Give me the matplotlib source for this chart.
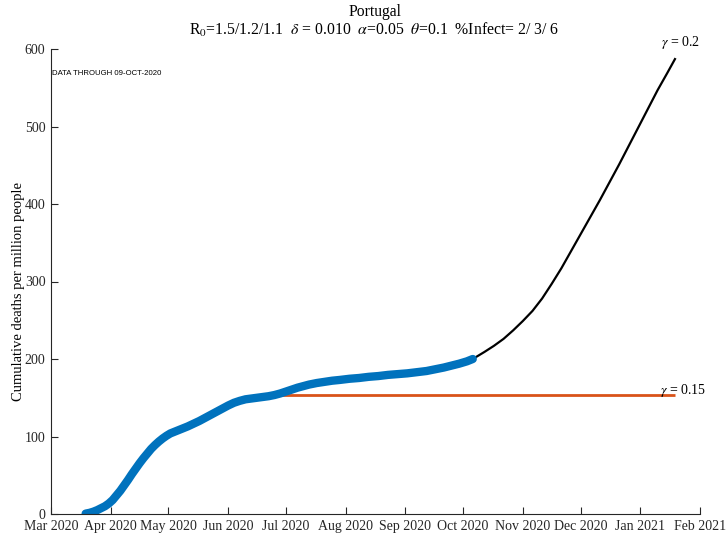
import matplotlib
matplotlib.use('Agg')
import matplotlib.pyplot as plt
import matplotlib.dates as mdates
import numpy as np

plt.rcParams['font.family'] = ['Liberation Serif', 'DejaVu Serif']
plt.rcParams['mathtext.fontset'] = 'stix'

start = np.datetime64('2020-03-01')

# reported data: days since 1-Mar-2020, cumulative deaths per million
data_days = [18, 20, 22, 24, 26, 28, 30, 32, 34, 36, 38, 40, 42, 44, 46, 48, 50, 52,
             54, 56, 58, 60, 62, 65, 68, 71, 74, 77, 80, 83, 86, 89, 92, 95, 98, 101,
             104, 107, 110, 113, 116, 119, 122, 125, 128, 131, 134, 138, 142, 146,
             150, 155, 160, 165, 170, 175, 180, 185, 190, 195, 200, 204, 208, 212,
             216, 219]
data_vals = [0.5, 1.5, 3, 5, 7.5, 10, 13.5, 18, 24, 30, 37, 44, 51.5, 58.5, 65.5, 72,
             78, 84, 89, 93.5, 97.5, 101, 104, 107, 110, 113, 116.5, 120, 124, 128,
             132, 136, 140, 143.5, 146, 148, 149, 150, 151, 152, 153.5, 155.5, 158,
             160.5, 163, 165, 167, 169, 170.5, 172, 173, 174.5, 175.5, 177, 178,
             179.5, 180.5, 181.5, 183, 184.5, 187, 189, 191.5, 194, 197, 200]

# projection, gamma = 0.2
proj_days = [219, 225, 230, 235, 240, 245, 250, 255, 260, 265, 270, 275, 280, 285,
             290, 295, 300, 305, 310, 315, 320, 324]
proj_vals = [200, 209, 217, 226, 237, 249, 262, 278, 297, 317, 339, 361, 383, 405,
             428, 451, 475, 499, 523, 547, 569, 587]

# projection, gamma = 0.15
flat_days = [110, 324]
flat_vals = [153, 153]

to_dt = lambda d: start + np.array(d, dtype='timedelta64[D]')

fig = plt.figure(figsize=(7.27, 5.34), dpi=100)
ax = fig.add_axes([51 / 727, 20 / 534, 649 / 727, 465 / 534])

ax.plot(to_dt(flat_days), flat_vals, color='#D95319', lw=2.0, solid_capstyle='butt')
ax.plot(to_dt(proj_days), proj_vals, color='black', lw=1.6)
ax.plot(to_dt(data_days), data_vals, color='#0072BD', lw=6, solid_capstyle='round',
        solid_joinstyle='round')

ax.text(np.datetime64('2021-01-22'), 608, r'$\gamma$ = 0.2', ha='center', va='center',
        fontsize=10)
ax.text(np.datetime64('2021-01-11'), 159, r'$\gamma$ = 0.15', ha='left', va='center',
        fontsize=10)
ax.text(0.002, 0.947, 'DATA THROUGH 09-OCT-2020', transform=ax.transAxes,
        fontsize=5.6, family='Liberation Sans', va='center')

ax.set_xlim(start, np.datetime64('2021-02-01'))
ax.set_ylim(0, 600)
ax.xaxis.set_major_locator(mdates.MonthLocator())
ax.xaxis.set_major_formatter(mdates.DateFormatter('%b %Y'))
ax.set_yticks([0, 100, 200, 300, 400, 500, 600])

for s in ['top', 'right']:
    ax.spines[s].set_visible(False)
for s in ['left', 'bottom']:
    ax.spines[s].set_color('#262626')
    ax.spines[s].set_linewidth(0.8)
ax.tick_params(direction='in', length=5, width=0.8, colors='#262626',
               labelsize=10, labelcolor='#262626')
ax.tick_params(axis='x', pad=4)
ax.tick_params(axis='y', pad=4)

ax.set_ylabel('Cumulative deaths per million people', fontsize=10.5)
ax.yaxis.set_label_coords(-0.040, 0.478)

fig.text(375 / 727, 1 - 12 / 534, 'Portugal', ha='center', va='center', fontsize=11.3)
fig.text(374 / 727, 1 - 30 / 534,
         r'R$_0$=1.5/1.2/1.1  $\delta$ = 0.010  $\alpha$=0.05  $\theta$=0.1  %Infect= 2/ 3/ 6',
         ha='center', va='center', fontsize=11.3)

fig.savefig('out.png', dpi=100)
